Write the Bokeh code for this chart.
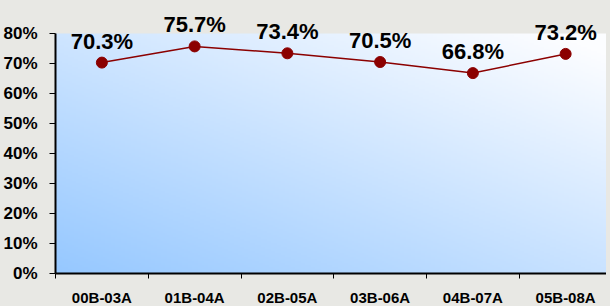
import numpy as np
from bokeh.plotting import figure
from bokeh.models import Range1d, FixedTicker, NumeralTickFormatter, ColumnDataSource, LabelSet
from bokeh.core.properties import value
from bokeh.embed import file_html
from bokeh.resources import INLINE

categories = ["00B-03A", "01B-04A", "02B-05A", "03B-06A", "04B-07A", "05B-08A"]
rates = [0.703, 0.757, 0.734, 0.705, 0.668, 0.732]
y_ticks = [0.0, 0.1, 0.2, 0.3, 0.4, 0.5, 0.6, 0.7, 0.8]

GRAY = "#e8e8e4"
RED = "#8b0000"
FONT = "Liberation Sans"

FW = 551
xs = list(range(len(categories)))
x_end = -0.5 + FW / 92.75
y_top = 0.8 * 265 / 240.0

p = figure(frame_width=FW, frame_height=265, output_backend="svg", toolbar_location=None,
           x_range=Range1d(-0.5, x_end), y_range=Range1d(0, y_top),
           min_border_left=55, min_border_top=8, min_border_right=0, min_border_bottom=0)
p.background_fill_color = GRAY
p.border_fill_color = GRAY
p.outline_line_color = None
p.grid.visible = False

# gradient background of plot area (decoration)
H, W = 120, 272
u = np.linspace(0, 1, W)[None, :]
v = np.linspace(0, 1, H)[:, None]
t = np.clip(0.5 * u + 0.55 * v, 0, 1)
c0 = np.array([150, 200, 255]); c1 = np.array([252, 253, 255])
img = np.empty((H, W), dtype=np.uint32)
view = img.view(dtype=np.uint8).reshape((H, W, 4))
for k in range(3):
    view[:, :, k] = (c0[k] + (c1[k] - c0[k]) * t).astype(np.uint8)
view[:, :, 3] = 255
p.image_rgba(image=[img], x=-0.5, y=0, dw=x_end + 0.5, dh=0.8)

src = ColumnDataSource(dict(x=xs, y=rates, lab=["%.1f%%" % (r * 100) for r in rates]))
p.line("x", "y", source=src, line_color=RED, line_width=1.5)
p.scatter("x", "y", source=src, size=11, fill_color=RED, line_color=RED)
p.add_layout(LabelSet(x="x", y="y", text="lab", source=src, text_align="center",
                      text_baseline="alphabetic", y_offset=14, text_font=value(FONT),
                      text_font_style="bold", text_font_size="22px", text_color="black"))

# x axis
xa = p.xaxis[0]
xa.ticker = FixedTicker(ticks=xs, minor_ticks=[i - 0.5 for i in range(len(categories) + 1)])
xa.major_label_overrides = {i: c for i, c in zip(xs, categories)}
xa.major_tick_line_color = None
xa.minor_tick_line_color = "black"
xa.minor_tick_out = 5
xa.minor_tick_in = 0
xa.axis_line_color = "black"
xa.axis_line_width = 2
xa.major_label_standoff = 9
xa.major_label_text_font = FONT
xa.major_label_text_font_style = "bold"
xa.major_label_text_font_size = "15px"
xa.major_label_text_color = "black"

# y axis
ya = p.yaxis[0]
ya.ticker = FixedTicker(ticks=y_ticks)
ya.bounds = (0, 0.8)
ya.formatter = NumeralTickFormatter(format="0%")
ya.minor_tick_line_color = None
ya.major_tick_out = 6
ya.major_tick_in = 0
ya.major_tick_line_color = "black"
ya.axis_line_color = "black"
ya.axis_line_width = 2
ya.major_label_standoff = 12
ya.major_label_text_font = FONT
ya.major_label_text_font_style = "bold"
ya.major_label_text_font_size = "17px"
ya.major_label_text_color = "black"

html = file_html(p, INLINE)
html = html.replace("</head>", "<style>html,body{background:%s;}</style></head>" % GRAY, 1)
open("out.html", "w").write(html)
